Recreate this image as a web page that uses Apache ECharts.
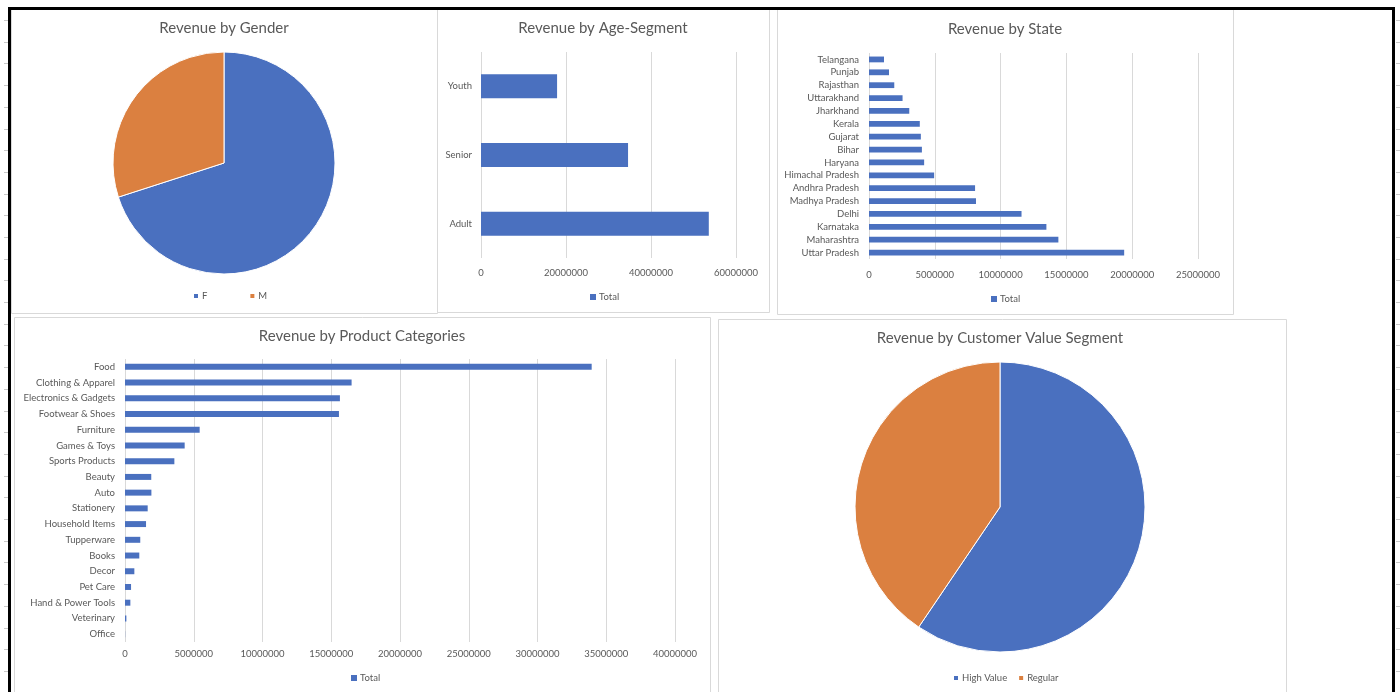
<!DOCTYPE html>
<html>
<head>
<meta charset="utf-8">
<script src="https://cdn.jsdelivr.net/npm/echarts@6/dist/echarts.min.js"></script>
<style>
html,body{margin:0;padding:0;background:#fff;}
#c{width:1400px;height:692px;}
</style>
</head>
<body>
<div id="c"></div>
<script>
// ---- data ----
const genderNames = ['F', 'M'];
const genderValues = [74300000, 31800000];

const ageCategories = ['Youth', 'Senior', 'Adult'];
const ageValues = [17900000, 34600000, 53600000];
const ageTicks = [0, 20000000, 40000000, 60000000];

const stateCategories = ['Telangana', 'Punjab', 'Rajasthan', 'Uttarakhand', 'Jharkhand', 'Kerala', 'Gujarat', 'Bihar', 'Haryana', 'Himachal Pradesh', 'Andhra Pradesh', 'Madhya Pradesh', 'Delhi', 'Karnataka', 'Maharashtra', 'Uttar Pradesh'];
const stateValues = [1140000, 1520000, 1920000, 2550000, 3060000, 3860000, 3940000, 4020000, 4190000, 4950000, 8060000, 8130000, 11590000, 13480000, 14390000, 19390000];
const stateTicks = [0, 5000000, 10000000, 15000000, 20000000, 25000000];

const productCategories = ['Food', 'Clothing & Apparel', 'Electronics & Gadgets', 'Footwear & Shoes', 'Furniture', 'Games & Toys', 'Sports Products', 'Beauty', 'Auto', 'Stationery', 'Household Items', 'Tupperware', 'Books', 'Decor', 'Pet Care', 'Hand & Power Tools', 'Veterinary', 'Office'];
const productValues = [33940000, 16480000, 15630000, 15560000, 5430000, 4340000, 3590000, 1910000, 1920000, 1650000, 1530000, 1110000, 1040000, 680000, 440000, 390000, 100000, 10000];
const productTicks = [0, 5000000, 10000000, 15000000, 20000000, 25000000, 30000000, 35000000, 40000000];

const customerNames = ['High Value', 'Regular'];
const customerValues = [63100000, 43000000];

const seriesName = 'Total';

// ---- styling ----
const BLUE = '#4A70BF';
const ORANGE = '#DB8040';
const TXT = '#595959';
const GRID = '#d9d9d9';
const FONT = 'Lato, "Open Sans", sans-serif';

function title(text, cx, cy) {
  return { text: text, left: cx, top: cy - 6, textAlign: 'center', padding: 0,
    textStyle: { fontFamily: FONT, fontSize: 15, fontWeight: 'normal', color: TXT } };
}
function legend(names, left, top, gap) {
  return { data: names, left: left, top: top, padding: 0, itemGap: gap, itemWidth: 6, itemHeight: 6,
    icon: 'rect', selectedMode: false,
    textStyle: { fontFamily: FONT, fontSize: 9.5, color: TXT, padding: [0, 0, 0, -2] } };
}
function valueAxis(gridIndex, ticks, margin) {
  return { type: 'value', gridIndex: gridIndex, min: ticks[0], max: ticks[ticks.length - 1],
    interval: ticks[1] - ticks[0],
    axisLine: { show: false }, axisTick: { show: false },
    splitLine: { show: true, lineStyle: { color: GRID, width: 1 } },
    axisLabel: { margin: margin, fontFamily: FONT, fontSize: 9.5, color: TXT, formatter: v => String(v) } };
}
function catAxis(gridIndex, cats, margin) {
  return { type: 'category', gridIndex: gridIndex, data: cats, inverse: true,
    axisLine: { show: false }, axisTick: { show: false },
    axisLabel: { margin: margin, fontFamily: FONT, fontSize: 9.5, color: TXT, interval: 0 } };
}
function bar(i, values, gap) {
  return { type: 'bar', name: seriesName, xAxisIndex: i, yAxisIndex: i, data: values,
    barCategoryGap: gap, itemStyle: { color: BLUE }, silent: true };
}
function panel(x1, y1, x2, y2) {
  return { type: 'rect', z: -10, shape: { x: x1 + 0.5, y: y1 + 0.5, width: x2 - x1, height: y2 - y1 },
    style: { fill: '#fff', stroke: GRID, lineWidth: 1 } };
}

const graphics = [
  panel(11, 9, 437, 313),
  panel(437, 9, 769, 312),
  panel(777, 9, 1233, 314),
  panel(14, 317, 710, 700),
  panel(718, 319, 1286, 700),
  { type: 'rect', z: 100, shape: { x: 9.5, y: 8.5, width: 1384, height: 700 },
    style: { fill: null, stroke: '#000', lineWidth: 3 } }
];
// spreadsheet row marks outside frame
for (let y = 20; y < 692; y += 21.7) {
  graphics.push({ type: 'line', z: -20, shape: { x1: 4, y1: Math.round(y) + 0.5, x2: 8, y2: Math.round(y) + 0.5 }, style: { stroke: '#c8c8c8', lineWidth: 1 } });
  graphics.push({ type: 'line', z: -20, shape: { x1: 1396, y1: Math.round(y) + 0.5, x2: 1400, y2: Math.round(y) + 0.5 }, style: { stroke: '#c8c8c8', lineWidth: 1 } });
}

const option = {
  backgroundColor: '#fff',
  animation: false,
  title: [
    title('Revenue by Gender', 224, 27),
    title('Revenue by Age-Segment', 603, 27),
    title('Revenue by State', 1005, 28),
    title('Revenue by Product Categories', 362, 335),
    title('Revenue by Customer Value Segment', 1000, 337)
  ],
  legend: [
    legend(genderNames, 192, 291, 41),
    legend([seriesName], 590, 292, 10),
    legend([seriesName], 991, 294, 10),
    legend([seriesName], 351, 673, 10),
    legend(customerNames, 952, 673, 10)
  ],
  grid: [
    { left: 481, top: 52, width: 255, height: 206 },
    { left: 869, top: 53, width: 329, height: 206 },
    { left: 125, top: 359, width: 550, height: 283 }
  ],
  xAxis: [
    valueAxis(0, ageTicks, 10),
    valueAxis(1, stateTicks, 11),
    valueAxis(2, productTicks, 7)
  ],
  yAxis: [
    catAxis(0, ageCategories, 9),
    catAxis(1, stateCategories, 10),
    catAxis(2, productCategories, 10)
  ],
  graphic: graphics,
  series: [
    bar(0, ageValues, '65%'),
    bar(1, stateValues, '55%'),
    bar(2, productValues, '62%'),
    { type: 'pie', center: [224, 163], radius: 111, startAngle: 90, clockwise: true,
      label: { show: false }, labelLine: { show: false }, silent: true,
      itemStyle: { borderColor: '#fff', borderWidth: 1 },
      color: [BLUE, ORANGE],
      data: genderNames.map((n, i) => ({ name: n, value: genderValues[i] })) },
    { type: 'pie', center: [1000, 507], radius: 145, startAngle: 90, clockwise: true,
      label: { show: false }, labelLine: { show: false }, silent: true,
      itemStyle: { borderColor: '#fff', borderWidth: 1 },
      color: [BLUE, ORANGE],
      data: customerNames.map((n, i) => ({ name: n, value: customerValues[i] })) }
  ]
};

const chart = echarts.init(document.getElementById('c'), null, { renderer: 'canvas' });
chart.setOption(option);
</script>
</body>
</html>
